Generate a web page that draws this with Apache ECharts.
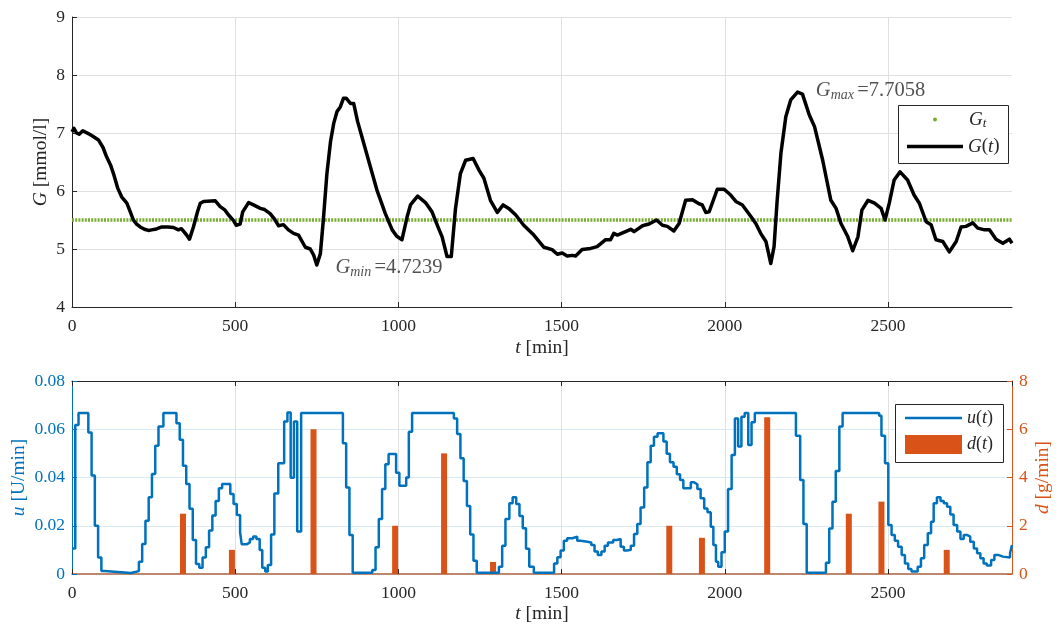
<!DOCTYPE html>
<html><head><meta charset="utf-8">
<script src="https://cdn.jsdelivr.net/npm/echarts@6/dist/echarts.min.js"></script>
<style>html,body{margin:0;padding:0;background:#fff}#c{width:1061px;height:627px}</style>
</head><body><div id="c"></div>
<script>
// ---------- data ----------
const tMax = 2880;
const xTickValues = [0, 500, 1000, 1500, 2000, 2500];
const gTickValues = [4, 5, 6, 7, 8, 9];
const uTickValues = [0, 0.02, 0.04, 0.06, 0.08];
const dTickValues = [0, 2, 4, 6, 8];

const glucoseT = [0,6,14,22,33,50,65,81,95,106,118,127,140,152,168,178,188,198,209,222,234,244,249,255,260,275,295,311,326,335,341,350,360,372,385,393,403,439,454,469,479,495,503,515,523,541,556,577,590,607,620,633,648,663,679,694,715,730,740,750,761,770,781,792,802,812,822,832,840,853,863,875,888,910,934,960,981,995,1011,1027,1037,1050,1059,1083,1103,1120,1134,1149,1162,1175,1190,1206,1229,1247,1262,1282,1303,1321,1338,1359,1384,1415,1446,1471,1487,1502,1517,1533,1543,1563,1589,1609,1635,1650,1660,1671,1712,1722,1748,1768,1791,1809,1824,1844,1860,1880,1901,1921,1931,1942,1952,1977,1998,2018,2034,2054,2080,2095,2110,2126,2141,2151,2160,2172,2187,2202,2223,2238,2259,2275,2300,2325,2341,2356,2377,2392,2408,2420,2439,2459,2479,2491,2504,2519,2537,2560,2580,2596,2617,2632,2647,2668,2688,2709,2724,2739,2760,2775,2796,2811,2831,2852,2872,2880];
const glucoseV = [7.02,7.08,7.00,6.98,7.04,6.99,6.94,6.88,6.75,6.59,6.45,6.30,6.05,5.90,5.79,5.65,5.50,5.43,5.38,5.34,5.32,5.33,5.36,5.34,5.35,5.38,5.38,5.37,5.33,5.35,5.34,5.25,5.17,5.38,5.65,5.79,5.82,5.83,5.73,5.67,5.59,5.49,5.41,5.43,5.64,5.80,5.76,5.70,5.68,5.61,5.52,5.40,5.42,5.33,5.27,5.24,5.03,5.00,4.90,4.7239,4.92,5.50,6.30,6.85,7.17,7.37,7.45,7.60,7.60,7.51,7.51,7.20,6.94,6.50,6.02,5.61,5.33,5.22,5.16,5.56,5.76,5.85,5.91,5.80,5.64,5.40,5.21,4.87,4.87,5.70,6.30,6.53,6.56,6.36,6.22,5.84,5.63,5.76,5.70,5.59,5.41,5.24,5.03,4.99,4.91,4.93,4.88,4.89,4.88,4.99,5.01,5.04,5.16,5.16,5.27,5.24,5.34,5.30,5.40,5.43,5.50,5.41,5.39,5.31,5.44,5.84,5.85,5.78,5.76,5.63,5.64,6.03,6.03,5.93,5.82,5.76,5.56,5.44,5.27,5.13,4.75,5.04,5.80,6.65,7.28,7.57,7.7058,7.67,7.31,7.11,6.53,5.84,5.70,5.44,5.21,4.97,5.21,5.67,5.84,5.79,5.70,5.50,5.79,6.19,6.33,6.19,5.93,5.79,5.47,5.42,5.16,5.13,4.95,5.13,5.38,5.39,5.45,5.36,5.33,5.33,5.17,5.10,5.17,5.10];

const targetG = 5.5;

const insulinT = [0,10,20,50,60,70,80,90,100,180,205,215,225,235,245,255,265,280,320,330,340,350,360,370,380,390,400,410,420,430,440,450,460,485,495,505,515,520,535,545,555,565,575,583,592,600,610,620,632,650,660,670,680,690,702,830,840,850,860,920,930,940,950,960,970,993,1003,1024,1032,1042,1170,1180,1190,1200,1210,1220,1230,1240,1308,1318,1328,1340,1350,1361,1371,1381,1391,1401,1415,1477,1487,1497,1507,1517,1533,1548,1558,1579,1591,1601,1611,1622,1632,1642,1658,1669,1681,1691,1701,1712,1722,1732,1742,1753,1763,1773,1783,1794,1812,1822,1832,1843,1853,1863,1873,1896,1906,1916,1926,1937,1947,1957,1965,1973,1980,1990,2000,2010,2021,2031,2041,2051,2061,2072,2082,2092,2218,2231,2241,2251,2310,2320,2330,2340,2351,2361,2473,2480,2491,2501,2511,2521,2531,2542,2552,2562,2572,2591,2601,2611,2622,2632,2640,2650,2661,2671,2681,2691,2701,2712,2722,2732,2742,2752,2763,2773,2783,2793,2803,2816,2826,2838,2852,2874,2880];
const insulinV = [0.0106,0.0618,0.0667,0.0587,0.0408,0.0200,0.0068,0.0012,0.0004,0.0012,0.0051,0.0124,0.0221,0.0318,0.0415,0.0532,0.0611,0.0667,0.0625,0.0556,0.0449,0.0373,0.0270,0.0141,0.0041,0.0026,0.0068,0.0111,0.0180,0.0242,0.0303,0.0355,0.0373,0.0332,0.0290,0.0245,0.0173,0.0123,0.0131,0.0145,0.0155,0.0145,0.0100,0.0026,0.0010,0.0037,0.0164,0.0334,0.0459,0.0632,0.0669,0.0399,0.0632,0.0176,0.0667,0.0542,0.0359,0.0162,0.0005,0.0017,0.0111,0.0228,0.0352,0.0455,0.0497,0.0420,0.0366,0.0400,0.0590,0.0667,0.0645,0.0580,0.0480,0.0386,0.0282,0.0164,0.0055,0.0005,0.0030,0.0117,0.0228,0.0293,0.0318,0.0290,0.0240,0.0190,0.0105,0.0030,0.0005,0.0044,0.0069,0.0097,0.0138,0.0148,0.0155,0.0138,0.0134,0.0131,0.0120,0.0093,0.0079,0.0093,0.0117,0.0131,0.0141,0.0145,0.0113,0.0097,0.0100,0.0117,0.0166,0.0207,0.0276,0.0359,0.0463,0.0532,0.0569,0.0583,0.0549,0.0498,0.0463,0.0445,0.0413,0.0390,0.0355,0.0380,0.0372,0.0352,0.0314,0.0272,0.0256,0.0196,0.0120,0.0051,0.0030,0.0090,0.0176,0.0352,0.0493,0.0645,0.0528,0.0652,0.0667,0.0535,0.0629,0.0667,0.0573,0.0390,0.0207,0.0005,0.0047,0.0189,0.0300,0.0427,0.0611,0.0667,0.0656,0.0573,0.0459,0.0203,0.0162,0.0138,0.0113,0.0079,0.0044,0.0021,0.0010,0.0030,0.0065,0.0120,0.0169,0.0217,0.0293,0.0318,0.0303,0.0293,0.0279,0.0247,0.0203,0.0176,0.0145,0.0162,0.0155,0.0134,0.0106,0.0086,0.0065,0.0044,0.0035,0.0058,0.0079,0.0072,0.0068,0.0086,0.0120];

const mealT = [340,490,740,990,1140,1290,1830,1930,2130,2380,2480,2680];
const mealV = [2.5,1.0,6.0,2.0,5.0,0.5,2.0,1.5,6.5,2.5,3.0,1.0];

const annotT = [807, 2279];
const annotG = [4.68, 7.73];
const annotSub = ['min', 'max'];
const annotVal = ['4.7239', '7.7058'];

// ---------- style ----------
const F = 'Liberation Serif';
const FS = 17.5;   // tick labels
const NS = 19.5;   // axis names
const BLUE = '#0072BD', ORANGE = '#D95319', GREEN = '#77AC30', DARK = '#262626';
function rich(color, size, sub) {
  return {
    i: {fontFamily: F, fontStyle: 'italic', fontSize: size, color: color},
    s: {fontFamily: F, fontStyle: 'italic', fontSize: sub, color: color, padding: [Math.round(size * 0.45), 0, 0, 0]},
    n: {fontFamily: F, fontSize: size, color: color}
  };
}
const legendNames = {
  'Gt': '{i|G}{s|t}',
  'G(t)': '{i|G}{n|(}{i|t}{n|)}',
  'u(t)': '{i|u}{n|(}{i|t}{n|)}',
  'd(t)': '{i|d}{n|(}{i|t}{n|)}'
};
const xFmt = v => xTickValues.indexOf(v) >= 0 ? String(v) : '';
function legendText(size) {
  return {fontFamily: F, fontSize: size, color: DARK, rich: rich(DARK, size, Math.round(size * 0.7))};
}

const chart = echarts.init(document.getElementById('c'), null, {renderer: 'canvas'});
const option = {
  backgroundColor: '#fff',
  animation: false,
  grid: [
    {left: 72, top: 17, width: 940, height: 290, containLabel: false, outerBoundsMode: 'none'},
    {left: 72, top: 381, width: 940, height: 193, containLabel: false, outerBoundsMode: 'none'}
  ],
  xAxis: [
    {gridIndex: 0, type: 'value', min: 0, max: tMax, interval: 500,
     axisLine: {onZero: false, lineStyle: {color: DARK, width: 1}},
     axisTick: {inside: true, length: 5, lineStyle: {color: DARK}},
     axisLabel: {formatter: xFmt, color: DARK, fontFamily: F, fontSize: FS, margin: 10, showMaxLabel: false},
     splitLine: {show: true, showMinLine: false, showMaxLine: false, lineStyle: {color: '#e0e0e0'}},
     name: '{i|t} [min]', nameLocation: 'middle', nameGap: 31,
     nameTextStyle: {fontFamily: F, fontSize: NS, color: DARK, rich: rich(DARK, NS, 14)}},
    {gridIndex: 1, type: 'value', min: 0, max: tMax, interval: 500,
     axisLine: {onZero: false, lineStyle: {color: '#a8613f', width: 1.5}},
     axisTick: {inside: true, length: 5, lineStyle: {color: DARK}},
     axisLabel: {formatter: xFmt, color: DARK, fontFamily: F, fontSize: FS, margin: 10, showMaxLabel: false},
     splitLine: {show: true, showMinLine: false, showMaxLine: false, lineStyle: {color: '#e0e0e0'}},
     name: '{i|t} [min]', nameLocation: 'middle', nameGap: 30,
     nameTextStyle: {fontFamily: F, fontSize: NS, color: DARK, rich: rich(DARK, NS, 14)}},
    {gridIndex: 1, type: 'value', min: 0, max: tMax, interval: 500, position: 'top',
     axisLine: {show: true, onZero: false, lineStyle: {color: DARK, width: 1}},
     axisTick: {show: true, inside: true, length: 5, lineStyle: {color: DARK}},
     axisLabel: {show: false}, splitLine: {show: false}}
  ],
  yAxis: [
    {gridIndex: 0, type: 'value', min: gTickValues[0], max: gTickValues[gTickValues.length - 1], interval: 1,
     axisLine: {show: true, onZero: false, lineStyle: {color: DARK}},
     axisTick: {show: true, inside: true, length: 5, lineStyle: {color: DARK}},
     axisLabel: {color: DARK, fontFamily: F, fontSize: FS, margin: 7},
     splitLine: {show: true, showMinLine: false, lineStyle: {color: '#e0e0e0'}},
     name: '{i|G} [mmol/l]', nameLocation: 'middle', nameGap: 21, nameMoveOverlap: false,
     nameTextStyle: {fontFamily: F, fontSize: NS, color: DARK, rich: rich(DARK, NS, 14)}},
    {gridIndex: 1, type: 'value', position: 'left', min: uTickValues[0], max: uTickValues[uTickValues.length - 1], interval: 0.02,
     axisLine: {show: true, onZero: false, lineStyle: {color: BLUE}},
     axisTick: {show: true, inside: true, length: 5, lineStyle: {color: BLUE}},
     axisLabel: {color: BLUE, fontFamily: F, fontSize: FS, margin: 7},
     splitLine: {show: true, showMinLine: false, showMaxLine: false, lineStyle: {color: '#d9eaf5'}},
     name: '{i|u} [U/min]', nameLocation: 'middle', nameGap: 43, nameMoveOverlap: false,
     nameTextStyle: {fontFamily: F, fontSize: NS, color: BLUE, rich: rich(BLUE, NS, 14)}},
    {gridIndex: 1, type: 'value', position: 'right', min: dTickValues[0], max: dTickValues[dTickValues.length - 1], interval: 2,
     axisLine: {show: true, onZero: false, lineStyle: {color: ORANGE}},
     axisTick: {show: true, inside: true, length: 5, lineStyle: {color: ORANGE}},
     axisLabel: {color: ORANGE, fontFamily: F, fontSize: FS, margin: 7},
     splitLine: {show: false},
     name: '{i|d} [g/min]', nameLocation: 'middle', nameGap: 21, nameRotate: 90, nameMoveOverlap: false,
     nameTextStyle: {fontFamily: F, fontSize: NS, color: ORANGE, rich: rich(ORANGE, NS, 14)}}
  ],
  legend: [
    {data: [{name: 'Gt', icon: 'circle'}], left: 933, top: 110, orient: 'vertical',
     itemWidth: 4, itemHeight: 4, padding: 0,
     formatter: n => legendNames[n], textStyle: Object.assign(legendText(19), {padding: [0, 0, 0, 27]})},
    {data: [{name: 'G(t)', icon: 'rect'}], left: 907, top: 137, orient: 'vertical',
     itemWidth: 56, itemHeight: 3.5, padding: 0,
     formatter: n => legendNames[n], textStyle: legendText(19)},
    {data: [{name: 'u(t)', icon: 'rect'}], left: 905, top: 409, orient: 'vertical',
     itemWidth: 57, itemHeight: 2.5, padding: 0,
     formatter: n => legendNames[n], textStyle: legendText(18)},
    {data: [{name: 'd(t)', icon: 'rect'}], left: 905, top: 435, orient: 'vertical',
     itemWidth: 57, itemHeight: 19, padding: 0,
     formatter: n => legendNames[n], textStyle: legendText(18)}
  ],
  graphic: [
    {type: 'rect', z: 3, shape: {x: 898.5, y: 105.5, width: 110, height: 58},
     style: {fill: '#fff', stroke: DARK, lineWidth: 1}},
    {type: 'rect', z: 3, shape: {x: 895.5, y: 404.5, width: 108, height: 58},
     style: {fill: '#fff', stroke: DARK, lineWidth: 1}}
  ],
  series: [
    {name: 'Gt', type: 'line', xAxisIndex: 0, yAxisIndex: 0, symbol: 'none', z: 2,
     data: [[0, targetG], [tMax, targetG]],
     itemStyle: {color: GREEN},
     lineStyle: {color: GREEN, width: 3.5, type: [2, 1.2]}},
    {name: 'G(t)', type: 'line', xAxisIndex: 0, yAxisIndex: 0, symbol: 'none', z: 3,
     data: glucoseT.map((t, k) => [t, glucoseV[k]]),
     itemStyle: {color: '#000'},
     lineStyle: {color: '#000', width: 3.5, join: 'round'}},
    {name: 'annot', type: 'scatter', xAxisIndex: 0, yAxisIndex: 0, symbolSize: 0, silent: true, z: 4,
     data: annotT.map((t, k) => [t, annotG[k], annotSub[k], annotVal[k]]),
     label: {show: true, position: 'right', distance: 0, align: 'left', verticalAlign: 'middle',
       formatter: p => '{i|G}{s|' + p.data[2] + '} {n|=' + p.data[3] + '}',
       rich: rich(DARK, 20.5, 14)}},
    {name: 'u(t)', type: 'line', xAxisIndex: 1, yAxisIndex: 1, symbol: 'none', step: 'end', z: 3,
     data: insulinT.map((t, k) => [t, insulinV[k]]),
     itemStyle: {color: BLUE},
     lineStyle: {color: BLUE, width: 2.5}},
    {name: 'd(t)', type: 'bar', xAxisIndex: 1, yAxisIndex: 2, barWidth: 6, z: 2,
     data: mealT.map((t, k) => [t, mealV[k]]),
     itemStyle: {color: ORANGE}}
  ]
};
chart.setOption(option);
</script></body></html>
